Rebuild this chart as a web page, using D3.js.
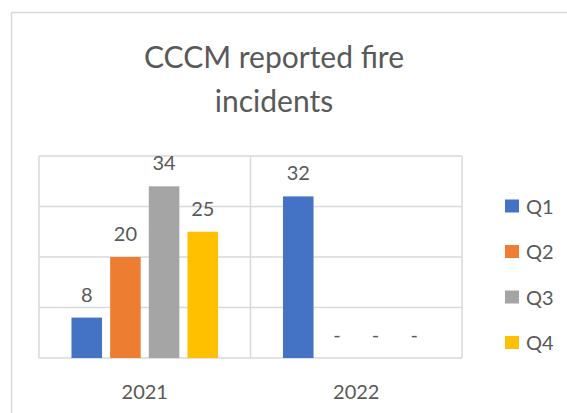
<!DOCTYPE html>
<html>
<head>
<meta charset="utf-8">
<script src="https://cdn.jsdelivr.net/npm/d3@7"></script>
<style>
  body{margin:0;background:#fff;}
  svg text{font-family:Lato,"Open Sans",sans-serif;fill:#595959;}
</style>
</head>
<body>
<div id="chart"></div>
<script>
var years=["2021","2022"];
var quarters=["Q1","Q2","Q3","Q4"];
var colours=["#4472C4","#ED7D31","#A5A5A5","#FFC000"];
var q1=[8,32];
var q2=[20,0];
var q3=[34,0];
var q4=[25,0];
var yTicks=[0,10,20,30,40];
var series=[q1,q2,q3,q4];

var W=567,H=413;
var plot={left:39,right:462,top:156,bottom:358};

var svg=d3.select("#chart").append("svg").attr("width",W).attr("height",H);

// chart frame
svg.append("rect").attr("x",11.5).attr("y",12.5).attr("width",700).attr("height",600)
  .attr("fill","none").attr("stroke","#d9d9d9").attr("stroke-width",1.5);

// title
var title=svg.append("text").attr("text-anchor","middle").style("font-size","30px");
title.append("tspan").attr("x",274).attr("y",68).text("CCCM reported fire");
title.append("tspan").attr("x",274).attr("y",112).text("incidents");

var x0=d3.scaleBand().domain(years).range([plot.left,plot.right]).padding(0);
var x1=d3.scaleBand().domain(quarters).range([0,x0.bandwidth()]).paddingInner(0.21).paddingOuter(0.84);
var y=d3.scaleLinear().domain([0,40]).range([plot.bottom,plot.top]);

// gridlines
svg.append("g").selectAll("line").data(yTicks).enter().append("line")
  .attr("x1",plot.left).attr("x2",plot.right)
  .attr("y1",function(d){return y(d);}).attr("y2",function(d){return y(d);})
  .attr("stroke","#d9d9d9").attr("stroke-width",1.5);
var vlines=[plot.left].concat(years.map(function(d){return x0(d)+x0.bandwidth();}));
svg.append("g").selectAll("line").data(vlines).enter().append("line")
  .attr("x1",function(d){return d;}).attr("x2",function(d){return d;})
  .attr("y1",plot.top).attr("y2",plot.bottom)
  .attr("stroke","#d9d9d9").attr("stroke-width",1.5);

// bars
var flat=[];
years.forEach(function(yr,i){
  quarters.forEach(function(q,j){
    flat.push({year:yr,q:q,v:series[j][i],c:colours[j]});
  });
});

svg.append("g").selectAll("rect").data(flat).enter().append("rect")
  .attr("x",function(d){return x0(d.year)+x1(d.q);})
  .attr("width",x1.bandwidth())
  .attr("y",function(d){return y(d.v);})
  .attr("height",function(d){return y(0)-y(d.v);})
  .attr("fill",function(d){return d.c;});

svg.append("g").selectAll("text").data(flat).enter().append("text")
  .attr("text-anchor","middle")
  .attr("x",function(d){return x0(d.year)+x1(d.q)+x1.bandwidth()/2;})
  .attr("y",function(d){return y(d.v)-16;})
  .style("font-size","20px")
  .text(function(d){return d.v===0?"-":d.v;});

// x labels
svg.append("g").selectAll("text").data(years).enter().append("text")
  .attr("text-anchor","middle")
  .attr("x",function(d){return x0(d)+x0.bandwidth()/2;})
  .attr("y",399)
  .style("font-size","20px")
  .text(function(d){return d;});

// legend
var leg=svg.append("g").selectAll("g").data(quarters).enter().append("g")
  .attr("transform",function(d,i){return "translate(505,"+(206+i*45.5)+")";});
leg.append("rect").attr("x",0).attr("y",-6.5).attr("width",14).attr("height",13)
  .attr("fill",function(d,i){return colours[i];});
leg.append("text").attr("x",21).attr("y",7.5).style("font-size","20px").text(function(d){return d;});
</script>
</body>
</html>
